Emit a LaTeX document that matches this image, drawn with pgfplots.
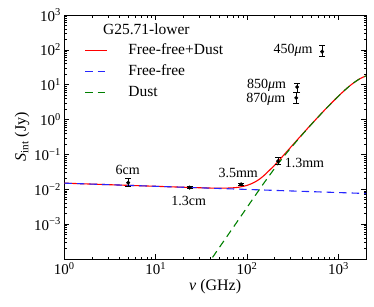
\documentclass[border=0pt]{standalone}
\usepackage{fontspec}
\setmainfont{Liberation Serif}
\usepackage{pgfplots}
\pgfplotsset{compat=1.18}
\definecolor{mplred}{rgb}{1,0,0}
\definecolor{mplblue}{rgb}{0.15,0.15,1}
\definecolor{mplgreen}{rgb}{0,0.5,0}
\begin{document}
\begin{tikzpicture}
\useasboundingbox (-64.3pt,-47pt) rectangle (309.7pt,259pt);
\begin{axis}[
  scale only axis, width=301.7pt, height=244pt,
  xmode=log, ymode=log,
  xmin=1, xmax=2000, ymin=1e-4, ymax=1e3,
  xtick={1,10,100,1000},
  xticklabels={10\textsuperscript{0},10\textsuperscript{1},10\textsuperscript{2},10\textsuperscript{3}},
  ytick={1e-4,1e-3,1e-2,1e-1,1,10,100,1000},
  yticklabels={,10\textsuperscript{−3},10\textsuperscript{−2},10\textsuperscript{−1},10\textsuperscript{0},10\textsuperscript{1},10\textsuperscript{2},10\textsuperscript{3}},
  tick align=inside, xtick pos=both, ytick pos=both,
  major tick length=5pt, minor tick length=2.5pt,
  every tick/.style={black, line width=0.6pt},
  axis line style={line width=0.8pt},
  tick label style={font=\fontsize{15}{18}\selectfont},
  xlabel={\textit{ν} (GHz)},
  ylabel={\textit{S}\textsubscript{int} (Jy)},
  label style={font=\fontsize{16}{19}\selectfont},
  xlabel style={yshift=2pt},
  ylabel style={yshift=-2pt},
  legend style={draw=none, fill=none, inner sep=0pt,
    at={(axis cs:1.66,158)}, anchor=north west,
    font=\fontsize{15.5}{18}\selectfont,
    nodes={inner ysep=0pt, inner xsep=0pt, text height=11pt, text depth=3pt},
    row sep=7pt,
    /tikz/every odd column/.append style={column sep=21pt}},
  legend cell align=left,
  legend image code/.code={\draw[#1] (0pt,0pt) -- (21.6pt,0pt);},
]
% Free-free + Dust
\addplot[draw=mplred, color=mplred, line width=1.1pt, smooth] coordinates {
 (1,0.01500) (2,0.01409) (5,0.01298) (10,0.01219) (20,0.01145) (30,0.01108)
 (40,0.01085) (50,0.01077) (60,0.01082) (70,0.01102) (80,0.01141) (100,0.01295)
 (120,0.01584) (137,0.01963) (150,0.02368) (200,0.0491) (250,0.0940) (300,0.161)
 (400,0.375) (500,0.715) (600,1.197) (700,1.836) (850,3.10) (1000,4.73)
 (1200,7.39) (1400,10.36) (1700,14.70) (2000,17.87)};
\addlegendentry{Free-free+Dust}
% Free-free
\addplot[draw=mplblue, color=mplblue, line width=1.1pt, dash pattern=on 7.5pt off 5pt] coordinates {
 (1,0.01500) (2,0.01409) (5,0.01298) (10,0.01219) (20,0.01145) (50,0.01055)
 (100,0.00991) (200,0.00929) (500,0.00857) (1000,0.00806) (2000,0.00757)};
\addlegendentry{Free-free}
% Dust
\addplot[draw=mplgreen, color=mplgreen, line width=1.1pt, dash pattern=on 7.5pt off 5pt, smooth] coordinates {
 (35,5.64e-5) (40,9.35e-5) (50,2.19e-4) (60,4.38e-4) (70,7.85e-4) (80,1.303e-3)
 (100,3.04e-3) (120,6.09e-3) (137,0.0100) (150,0.01413) (200,0.0398) (250,0.0849)
 (300,0.152) (400,0.366) (500,0.706) (600,1.189) (700,1.828) (850,3.09)
 (1000,4.72) (1200,7.38) (1400,10.35) (1700,14.69) (2000,17.86)};
\addlegendentry{Dust}
% Measurements
\addplot[black, only marks, mark=*, mark size=1.8pt,
  error bars/.cd, y dir=both, y explicit,
  error bar style={line width=1pt},
  error mark options={rotate=90, mark size=3pt, line width=1pt}]
  coordinates {
  (5.0,0.0155) += (0,0.0047) -= (0,0.0036)
  (23.5,0.0112) +- (0,0.0008)
  (86,0.0139) +- (0,0.0012)
  (218,0.064) += (0,0.016) -= (0,0.012)
  (353,8.6) += (0,2.6) -= (0,2.8)
  (345,4.2) += (0,1.6) -= (0,1.3)
  (662,89) += (0,41) -= (0,25)
  };
\node[font=\fontsize{15.5}{18}\selectfont] at (axis cs:7.9,400) {G25.71-lower};
\begin{scope}[every node/.style={font=\fontsize{14}{17}\selectfont}]
\node at (axis cs:4.95,0.0355) {6cm};
\node at (axis cs:23,0.0047) {1.3cm};
\node at (axis cs:80,0.029) {3.5mm};
\node[anchor=west, inner sep=0pt] at (axis cs:257,0.058) {1.3mm};
\node[anchor=east, inner sep=0pt] at (axis cs:523,100) {450\textit{μ}m};
\node[anchor=east, inner sep=0pt] at (axis cs:268,9.4) {850\textit{μ}m};
\node[anchor=east, inner sep=0pt] at (axis cs:263,3.9) {870\textit{μ}m};
\end{scope}
\end{axis}
\end{tikzpicture}
\end{document}
